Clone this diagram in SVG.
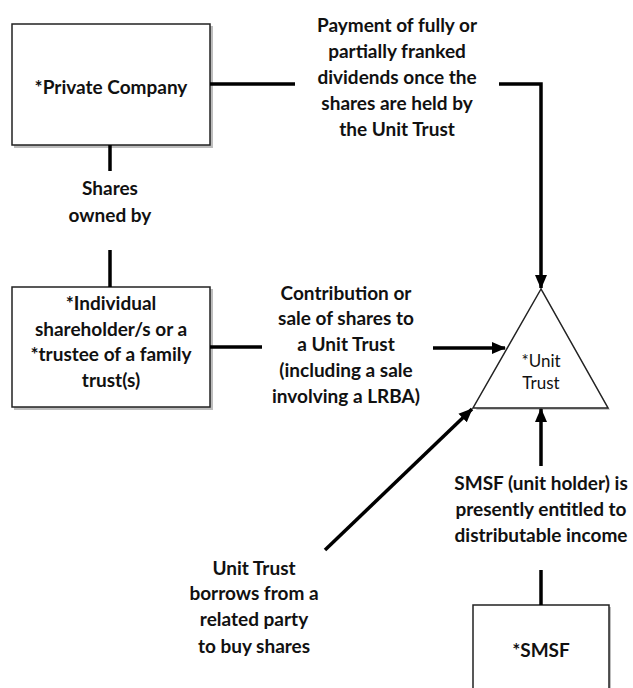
<svg xmlns="http://www.w3.org/2000/svg" width="633" height="688" viewBox="0 0 633 688">
<style>
.box{fill:#fff;stroke:#222;stroke-width:1.5}
.shadow{fill:#bdbdbd}
.ln{stroke:#000;stroke-width:3.5;fill:none}
.t{font-family:Lato,"Liberation Sans",sans-serif;font-weight:bold;font-size:19px;fill:#111;text-anchor:middle}
.s{font-family:Lato,"Liberation Sans",sans-serif;font-size:17px;fill:#111;text-anchor:middle}
</style>
<defs>
<marker id="ah" markerWidth="14" markerHeight="14" refX="13" refY="7" orient="auto" markerUnits="userSpaceOnUse">
<path d="M0,1 L14,7 L0,13 Z" fill="#000"/>
</marker>
</defs>
<rect width="633" height="688" fill="#fff"/>
<g id="private-company">
<rect class="shadow" x="14" y="26" width="199" height="122"/>
<rect class="box" x="12" y="24" width="198" height="121"/>
<text class="t" x="111" y="94">*Private Company</text>
</g>
<g id="individual">
<rect class="shadow" x="14" y="289" width="199" height="121"/>
<rect class="box" x="12" y="287" width="198" height="120"/>
<text class="t" x="111" y="310">*Individual</text>
<text class="t" x="111" y="336">shareholder/s or a</text>
<text class="t" x="111" y="361">*trustee of a family</text>
<text class="t" x="111" y="387">trust(s)</text>
</g>
<g id="unit-trust">
<polygon points="543,291 476,410 610,410" fill="#c8c8c8"/>
<polygon points="541,289 473,408 608,408" fill="#fff" stroke="#222" stroke-width="1.5"/>
<text class="s" x="541" y="367">*Unit</text>
<text class="s" x="541" y="389">Trust</text>
</g>
<g id="smsf">
<rect class="shadow" x="475" y="607" width="136" height="90"/>
<rect class="box" x="473" y="605" width="136" height="90"/>
<text class="t" x="541" y="657">*SMSF</text>
</g>
<g id="connectors">
<line class="ln" x1="210" y1="84" x2="295" y2="84"/>
<polyline class="ln" points="499,84 541,84 541,288" marker-end="url(#ah)"/>
<line class="ln" x1="110" y1="145" x2="110" y2="171"/>
<line class="ln" x1="110" y1="250" x2="110" y2="287"/>
<line class="ln" x1="210" y1="347" x2="262" y2="347"/>
<line class="ln" x1="433" y1="348" x2="505" y2="348" marker-end="url(#ah)"/>
<line class="ln" x1="325" y1="550" x2="472" y2="409" marker-end="url(#ah)"/>
<line class="ln" x1="541" y1="466" x2="541" y2="409" marker-end="url(#ah)"/>
<line class="ln" x1="541" y1="570" x2="541" y2="605"/>
</g>
<g id="labels">
<text class="t" x="397" y="32">Payment of fully or</text>
<text class="t" x="397" y="58">partially franked</text>
<text class="t" x="397" y="84">dividends once the</text>
<text class="t" x="397" y="110">shares are held by</text>
<text class="t" x="397" y="136">the Unit Trust</text>
<text class="t" x="110" y="195">Shares</text>
<text class="t" x="110" y="222">owned by</text>
<text class="t" x="346" y="300">Contribution or</text>
<text class="t" x="346" y="325">sale of shares to</text>
<text class="t" x="346" y="351">a Unit Trust</text>
<text class="t" x="346" y="377">(including a sale</text>
<text class="t" x="346" y="403">involving a LRBA)</text>
<text class="t" x="541" y="490">SMSF (unit holder) is</text>
<text class="t" x="541" y="516">presently entitled to</text>
<text class="t" x="541" y="542">distributable income</text>
<text class="t" x="254" y="575">Unit Trust</text>
<text class="t" x="254" y="600">borrows from a</text>
<text class="t" x="254" y="626">related party</text>
<text class="t" x="254" y="653">to buy shares</text>
</g>
</svg>
